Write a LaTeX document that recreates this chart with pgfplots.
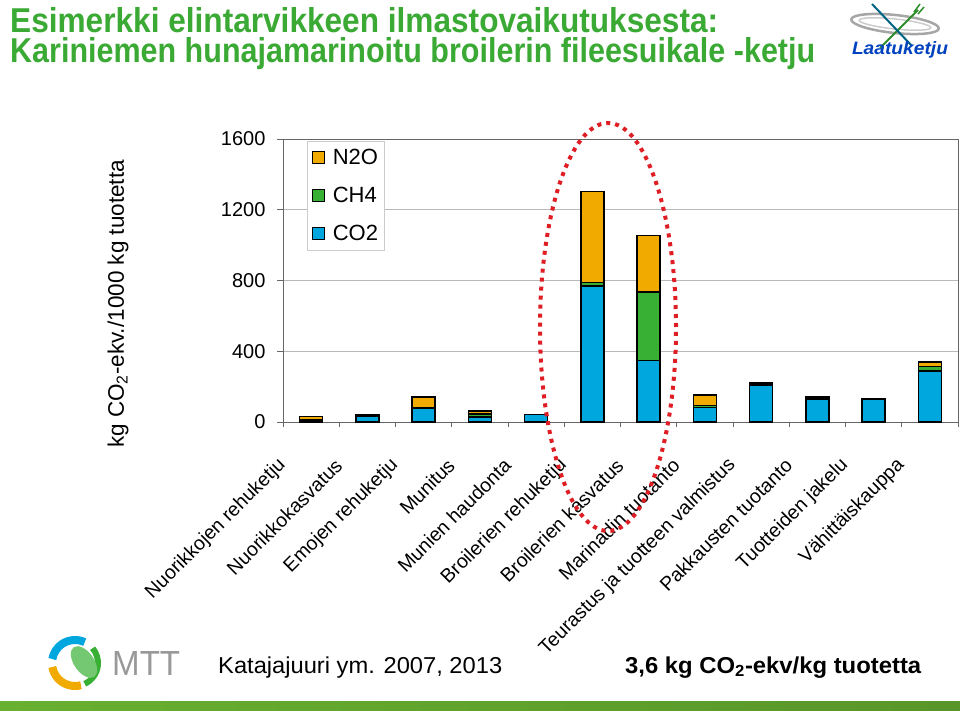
\documentclass[border=0pt]{standalone}
\usepackage{fontspec}
\setmainfont{Liberation Sans}
\usepackage{pgfplots}
\pgfplotsset{compat=1.18}
\definecolor{cotwo}{RGB}{0,166,222}
\definecolor{chfour}{RGB}{56,176,52}
\definecolor{ntwoo}{RGB}{240,170,0}
\definecolor{titlegreen}{RGB}{59,170,53}
\definecolor{ellred}{RGB}{222,30,36}
\definecolor{bandgreen}{RGB}{104,176,48}
\begin{document}
\begin{tikzpicture}[x=1pt,y=1pt]
\useasboundingbox (0,0) rectangle (960,710);
\fill[white] (0,0) rectangle (960,710);
% title
\node[anchor=base west, inner sep=0, text=titlegreen] at (10,677) {\resizebox{708pt}{25pt}{\fontsize{35}{40}\selectfont\bfseries Esimerkki elintarvikkeen ilmastovaikutuksesta:}};
\node[anchor=base west, inner sep=0, text=titlegreen] at (10,647) {\resizebox{805pt}{25pt}{\fontsize{35}{40}\selectfont\bfseries Kariniemen hunajamarinoitu broilerin fileesuikale -ketju}};
% Laatuketju logo
\draw[gray!70, line width=2.5pt, rotate around={-6:(895,686)}] (895,686) ellipse [x radius=44, y radius=9];
\draw[gray!40, line width=1.5pt, rotate around={-6:(895,686)}] (895,686) ellipse [x radius=36, y radius=5];
\draw[chfour!80!black, line width=2pt] (880,662) -- (918,700);
\draw[chfour!80!black, line width=1.5pt] (914,698) -- (920,706) (918,696) -- (924,703);
\draw[cotwo!60!black, line width=2pt] (872,706) -- (912,664);
\node[text=cotwo!50!blue!80!black, inner sep=0] at (900,660) {\resizebox{96pt}{13pt}{\bfseries\itshape Laatuketju}};
% y label
\node[rotate=90, inner sep=0] at (118,406) {\fontsize{22.5}{26}\selectfont kg CO\textsubscript{2}-ekv./1000 kg tuotetta};
\begin{axis}[
  at={(283pt,288pt)}, anchor=south west,
  scale only axis, width=675pt, height=283pt,
  ybar stacked, bar width=23pt,
  xmin=-0.5, xmax=11.5, ymin=0, ymax=1600,
  ytick={0,400,...,1600},
  xtick={0,...,11},
  xticklabels={Nuorikkojen rehuketju, Nuorikkokasvatus, Emojen rehuketju, Munitus, Munien haudonta, Broilerien rehuketju, Broilerien kasvatus, Marinadin tuotanto, Teurastus ja tuotteen valmistus, Pakkausten tuotanto, Tuotteiden jakelu, Vähittäiskauppa},
  minor xtick={-0.5,0.5,...,11.5},
  major x tick style={draw=none},
  minor tick length=5pt, major tick length=6pt,
  tick align=outside, tick pos=left,
  ymajorgrids, grid style={gray!55, line width=0.8pt},
  axis line style={gray!80!black, line width=1pt},
  every tick/.style={gray!80!black, line width=1pt},
  /pgf/number format/assume math mode=true,
  /pgf/number format/1000 sep={},
  yticklabel style={font=\fontsize{20}{24}\selectfont, xshift=-8pt},
  xticklabel style={font=\fontsize{19.5}{23}\selectfont, rotate=45, anchor=east, xshift=-41pt, yshift=-4pt},
  reverse legend,
  legend cell align=left,
  legend style={at={(0.036,0.993)}, anchor=north west, draw=gray!40, font=\fontsize{22}{25}\selectfont, row sep=17pt, inner xsep=4pt, inner ysep=6pt},
  legend image code/.code={\draw[#1, draw=black, line width=1.2pt] (0pt,-6pt) rectangle (12pt,6pt); \path (18pt,0pt);},
  every axis plot/.append style={draw=black, line width=1.3pt},
]
\addplot[fill=cotwo] coordinates {(0,10)(1,30)(2,78)(3,28)(4,41)(5,769)(6,347)(7,83)(8,205)(9,126)(10,128)(11,288)};
\addplot[fill=chfour] coordinates {(0,2)(1,5)(2,4)(3,18)(4,1)(5,19)(6,388)(7,11)(8,10)(9,10)(10,1)(11,26)};
\addplot[fill=ntwoo] coordinates {(0,20)(1,8)(2,59)(3,16)(4,1)(5,514)(6,318)(7,59)(8,5)(9,5)(10,1)(11,26)};
\legend{CO2, CH4, N2O}
\end{axis}
% ellipse highlight
\draw[ellred, line width=4pt, dash pattern=on 4pt off 5pt] (608,383) ellipse [x radius=68, y radius=204];
% MTT logo
\draw[cotwo, line width=8pt] (75,47) ++(65:23) arc (65:170:23);
\draw[ntwoo, line width=8pt] (75,47) ++(190:23) arc (190:285:23);
\draw[chfour, line width=6pt] (75,47) ++(295:23) arc (295:400:23);
\fill[chfour!70!white, rotate around={35:(84,48)}] (84,48) ellipse [x radius=10, y radius=18];
\node[anchor=west, inner sep=0, text=gray!80] at (112,47) {\resizebox{68pt}{24pt}{MTT}};
% bottom texts
\node[anchor=base west, inner sep=0] at (218,37) {\resizebox{284pt}{\height}{\fontsize{23}{26}\selectfont Katajajuuri ym. 2007, 2013}};
\node[anchor=base west, inner sep=0] at (625,37) {\resizebox{296pt}{\height}{\fontsize{23}{26}\selectfont\bfseries 3,6 kg CO\textsubscript{2}-ekv/kg tuotetta}};
% bottom band
\shade[left color=bandgreen, right color=bandgreen!85!black] (0,0) rectangle (960,9);
\end{tikzpicture}
\end{document}
